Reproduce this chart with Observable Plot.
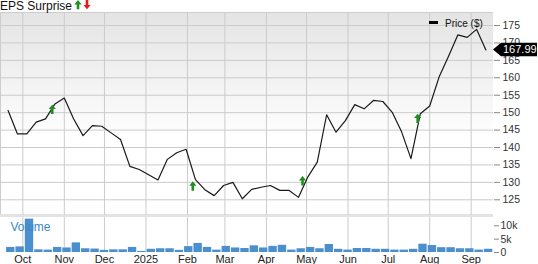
<!DOCTYPE html>
<html><head><meta charset="utf-8">
<script src="https://cdn.jsdelivr.net/npm/d3@7"></script>
<script src="https://cdn.jsdelivr.net/npm/@observablehq/plot@0.6"></script>
<style>
html,body{margin:0;padding:0;background:#fff;}
#wrap{position:relative;width:538px;height:264px;overflow:hidden;font-family:"Liberation Sans",Arial,sans-serif;}
#bg{position:absolute;left:0;top:12px;width:493px;height:203px;background:linear-gradient(to bottom,#e4e4e4 0%,#f3f3f3 35%,#ffffff 62%);border-top:1px solid #cdcdcd;border-left:1px solid #cdcdcd;box-sizing:border-box;}
#band{position:absolute;left:0;top:214px;width:493px;height:3px;background:#e3e3e3;}
.layer{position:absolute;left:0;}
#title{position:absolute;left:0;top:0;font-size:12px;line-height:12px;color:#111;white-space:nowrap;}
#legRect{position:absolute;left:429px;top:20.5px;width:9px;height:3.5px;background:#000;}
#legText{position:absolute;left:445px;top:18px;font-size:10px;line-height:11px;color:#111;white-space:nowrap;}
</style></head>
<body>
<div id="wrap">
  <div id="bg"></div>
  <div id="band"></div>
  <div id="price" class="layer" style="top:0"></div>
  <div id="vol" class="layer" style="top:215px"></div>
  <div id="title">EPS Surprise</div>
  <svg style="position:absolute;left:73.5px;top:0" width="8" height="10"><path d="M4,0L7.6,4.4L5.3,4.4L5.3,9.3L2.7,9.3L2.7,4.4L0.4,4.4Z" fill="#1f8f1f"/></svg>
  <svg style="position:absolute;left:82.5px;top:0" width="8" height="10"><path d="M4,9.3L7.6,4.9L5.3,4.9L5.3,0L2.7,0L2.7,4.9L0.4,4.9Z" fill="#e31b1b"/></svg>
  <div id="legRect"></div>
  <div id="legText">Price ($)</div>
</div>
<script>
const dates = ["2024-09-20","2024-09-27","2024-10-04","2024-10-11","2024-10-18","2024-10-25","2024-11-01","2024-11-08","2024-11-15","2024-11-22","2024-11-29","2024-12-06","2024-12-13","2024-12-20","2024-12-27",
"2025-01-03","2025-01-10","2025-01-17","2025-01-24","2025-01-31","2025-02-07","2025-02-14","2025-02-21","2025-02-28","2025-03-07","2025-03-14","2025-03-21","2025-03-28","2025-04-04","2025-04-11","2025-04-18","2025-04-25","2025-05-02","2025-05-09","2025-05-16","2025-05-23","2025-05-30","2025-06-06","2025-06-13","2025-06-20","2025-06-27","2025-07-04","2025-07-11","2025-07-18","2025-07-25","2025-08-01","2025-08-08","2025-08-15","2025-08-22","2025-08-29","2025-09-05","2025-09-12"];
const prices = [150.6,143.9,143.9,147.3,148.2,152.5,154.2,148.2,143.4,146.3,146.1,144.2,142.3,134.6,133.7,132.2,130.7,136.6,138.5,139.5,130.8,127.9,126.2,129.1,130.0,125.3,128.0,128.6,129.1,127.7,127.7,125.7,131.6,135.8,149.4,144.4,147.7,152.3,151.1,153.5,153.2,150.1,144.5,136.8,149.7,151.9,160.2,166.1,172.3,171.6,173.9,167.99];
const volumes = [1.9,2.1,12.5,1.0,0.9,1.9,1.7,3.6,1.4,1.3,0.8,1.0,1.0,1.9,0.4,1.2,1.4,1.4,0.8,2.2,3.4,1.9,0.9,2.3,1.7,1.5,2.5,1.7,2.3,2.7,0.9,1.4,1.9,1.4,3.0,1.2,0.9,1.5,1.5,1.2,1.2,0.9,0.9,1.2,3.1,2.6,1.8,1.8,1.4,1.4,0.9,1.2];
const epsDates = ["2024-10-23","2025-02-05","2025-04-28","2025-07-23"];
const epsLevels = [152.3,130.3,131.8,149.7];
const priceTicks = [125,130,135,140,145,150,155,160,165,170,175];
const volTicks = [0,5,10];
const volTickLabels = ["0","5k","10k"];
const monthTickDates = ["2024-10-01","2024-11-01","2024-12-01","2025-01-01","2025-02-01","2025-03-01","2025-04-01","2025-05-01","2025-06-01","2025-07-01","2025-08-01","2025-09-01"];
const monthLabels = ["Oct","Nov","Dec","2025","Feb","Mar","Apr","May","Jun","Jul","Aug","Sep"];
const xDomainDates = ["2024-09-14T08:00Z","2025-09-17T16:00Z"];
const priceDomain = [120.5,178.73];
const volDomain = [0,13.1];

const DAY = 864e5;
const parse = s => new Date(s.length === 10 ? s + "T00:00Z" : s);
const priceData = dates.map((d,i) => ({date: parse(d), price: prices[i]}));
const volData = dates.map((d,i) => ({date: parse(d), vol: volumes[i]}));
const epsData = epsDates.map((d,i) => ({date: parse(d), price: epsLevels[i]}));
const last = priceData[priceData.length-1];
const monthTicks = monthTickDates.map(parse);
const xDomain = xDomainDates.map(parse);

const upArrow = {draw(ctx){ctx.moveTo(0,0);ctx.lineTo(3.6,4.3);ctx.lineTo(1.3,4.3);ctx.lineTo(1.3,9.3);ctx.lineTo(-1.3,9.3);ctx.lineTo(-1.3,4.3);ctx.lineTo(-3.6,4.3);ctx.closePath();}};
const font = "'Liberation Sans', Arial, sans-serif";

const priceChart = Plot.plot({
  width: 538, height: 215,
  marginTop: 12, marginBottom: 0, marginLeft: 0, marginRight: 45,
  style: {background: "transparent", fontFamily: font, fontSize: "10px", overflow: "visible", color: "#333"},
  x: {type: "utc", domain: xDomain, axis: null},
  y: {domain: priceDomain},
  marks: [
    Plot.ruleY(priceTicks, {stroke: "#cbcbcb"}),
    Plot.ruleX(monthTicks, {stroke: "#cbcbcb"}),
    Plot.axisY(priceTicks, {anchor: "right", tickSize: 6, tickPadding: 3, stroke: "#888", fill: "#333", label: null, fontSize: 10.5}),
    Plot.line(priceData, {x: "date", y: "price", stroke: "#1a1a1a", strokeWidth: 1.2}),
    Plot.dot(epsData, {x: "date", y: "price", symbol: upArrow, fill: "#1f8f1f", stroke: "none"})
  ]
});
document.getElementById("price").append(priceChart);

// last-price label box, positioned through the chart's own scales
{
  const yS = priceChart.scale("y");
  const xS = priceChart.scale("x");
  const yy = yS.apply(last.price);
  const xr = Math.max(...xS.range);
  const g = d3.select(priceChart).append("g").attr("transform", `translate(${xr},${yy})`);
  g.append("path").attr("d", "M0,0L8,-6.8L44,-6.8L44,6.8L8,6.8Z").attr("fill", "#000");
  g.append("text").attr("x", 10).attr("y", 0).attr("dy", "0.35em").attr("fill", "#fff")
    .attr("text-anchor", "start").attr("font-size", 11).attr("font-family", font)
    .text(last.price.toFixed(2));
}

const volChart = Plot.plot({
  width: 538, height: 49,
  marginTop: 2, marginBottom: 12, marginLeft: 0, marginRight: 45,
  style: {background: "transparent", fontFamily: font, fontSize: "10px", overflow: "visible", color: "#333"},
  x: {type: "utc", domain: xDomain, axis: null},
  y: {domain: volDomain, axis: null},
  marks: [
    Plot.ruleX(monthTicks, {stroke: "#cbcbcb"}),
    Plot.rect(volData, {x1: d => new Date(+d.date - 1.5*DAY), x2: d => new Date(+d.date + 5.5*DAY), y1: 0, y2: "vol", fill: "#4b8fcf", insetLeft: 0.5, insetRight: 0.5}),
    Plot.axisY(volTicks, {anchor: "right", tickSize: 5, tickPadding: 2, stroke: "#888", fill: "#333", label: null, fontSize: 10.5, tickFormat: d => volTickLabels[volTicks.indexOf(d)]}),
    Plot.axisX(monthTicks, {anchor: "bottom", tickSize: 0, tickPadding: 3, fill: "#222", label: null, fontSize: 11, tickFormat: d => monthLabels[monthTicks.findIndex(t => +t === +d)]}),
    Plot.text(["Volume"], {frameAnchor: "top-left", dx: 10, dy: 9.7, text: d => d, fill: "#3a87c8", fontSize: 12, textAnchor: "start", lineAnchor: "middle"})
  ]
});
document.getElementById("vol").append(volChart);
</script>
</body></html>
